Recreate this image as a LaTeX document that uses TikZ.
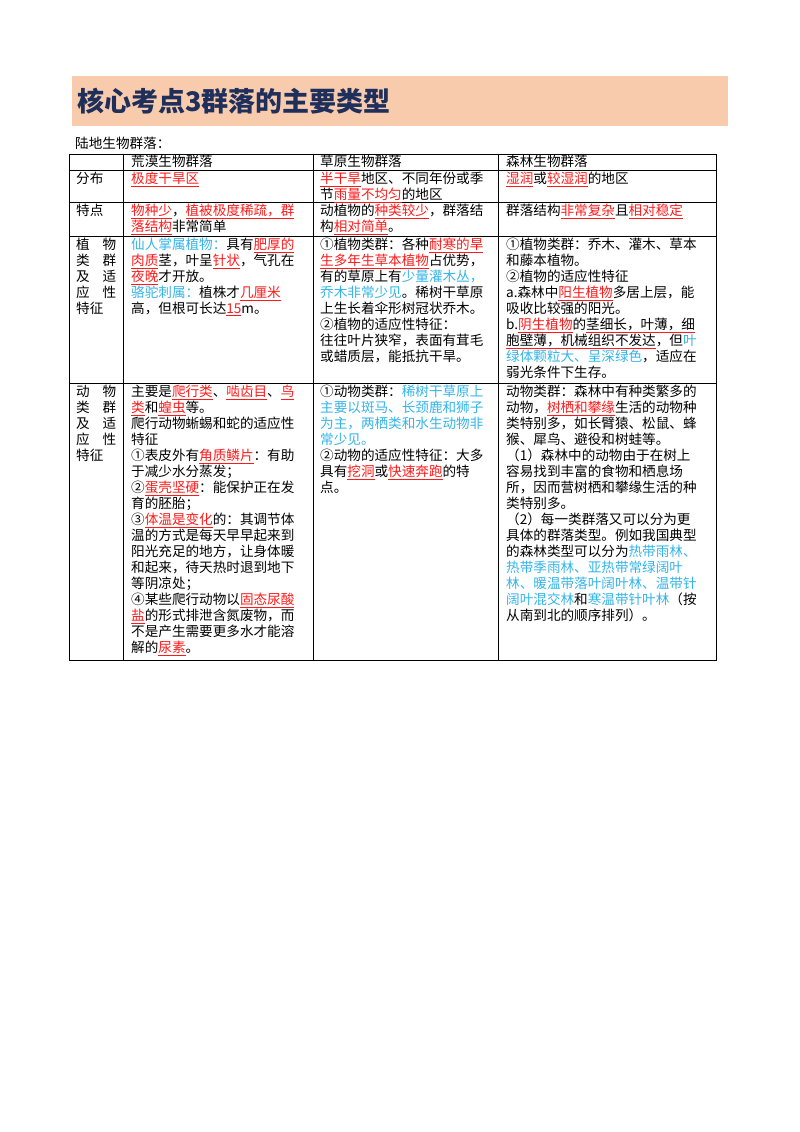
\documentclass[tikz,border=0pt]{standalone}
\usepackage{fontspec}
\setmainfont{Noto Sans CJK SC}
\XeTeXlinebreaklocale "zh"
\XeTeXlinebreakskip=0pt plus 1pt
\definecolor{band}{HTML}{F8CBAD}
\definecolor{navy}{HTML}{1F2F5C}
\definecolor{hired}{HTML}{FF1A1A}
\definecolor{skyb}{HTML}{33B4E8}
\newcommand{\hl}[1]{\textcolor{hired}{\underline{#1}}}
\newcommand{\ulr}[1]{\textcolor{hired}{\underline{\textcolor{black}{#1}}}}
\newcommand{\bl}[1]{\textcolor{skyb}{#1}}
\newcommand{\two}[2]{\makebox[40pt]{#1\hfill #2}}
\newcommand{\cellfont}{\fontsize{13.6}{16}\selectfont}

\begin{document}
\begin{tikzpicture}[x=1pt, y=-1pt,
    cell/.style={anchor=north west, inner sep=0pt, font=\cellfont, align=left},
    rule/.style={line width=0.6pt}]
    \useasboundingbox (0,0) rectangle (800,1132);

    % title band
    \fill[band] (72,76) rectangle (728,126);
    \node[anchor=west, inner sep=0pt, text=navy, font=\fontsize{27}{30}\selectfont\bfseries] (title) at (77,101) {核心考点3群落的主要类型};
    \node[anchor=west, inner sep=0pt, font=\cellfont] (sub) at (75,143) {陆地生物群落：};

    % table grid
    \draw[rule] (69,154) rectangle (716,660);
    \foreach \y in {170,202,236,383}
        \draw[rule] (69,\y) -- (716,\y);
    \foreach \x in {123,313,498}
        \draw[rule] (\x,154) -- (\x,660);

    % header row
    \node[cell] (h2) at (131,155) {荒漠生物群落};
    \node[cell] (h3) at (320,155) {草原生物群落};
    \node[cell] (h4) at (506,155) {森林生物群落};

    % distribution
    \node[cell] (d1) at (76,172) {分布};
    \node[cell] (d2) at (131,172) {\hl{极度干旱区}};
    \node[cell] (d3) at (320,172) {\hl{半干旱}地区、不同年份或季\\节\hl{雨量不均匀}的地区};
    \node[cell] (d4) at (506,172) {\hl{湿润}或\hl{较湿润}的地区};

    % features
    \node[cell] (f1) at (76,204) {特点};
    \node[cell] (f2) at (131,204) {\hl{物种少}，\hl{植被极度稀疏，群}\\\hl{落结构}非常简单};
    \node[cell] (f3) at (320,204) {动植物的\hl{种类较少}，群落结\\构\hl{相对简单}。};
    \node[cell] (f4) at (506,204) {群落结构\hl{非常复杂}且\hl{相对稳定}};

    % plants
    \node[cell] (p1) at (76,238) {\two{植}{物}\\\two{类}{群}\\\two{及}{适}\\\two{应}{性}\\特征};
    \node[cell] (p2) at (131,238) {\bl{仙人掌属植物：}具有\hl{肥厚的}\\\hl{肉质}茎，叶呈\hl{针状}，气孔在\\\hl{夜晚}才开放。\\\bl{骆驼刺属：}植株才\hl{几厘米}\\高，但根可长达\hl{15}m。};
    \node[cell] (p3) at (320,238) {①植物类群：各种\hl{耐寒的旱}\\\hl{生多年生草本植物}占优势，\\有的草原上有\bl{少量灌木丛，}\\\bl{乔木非常少见}。稀树干草原\\上生长着伞形树冠状乔木。\\②植物的适应性特征：\\往往叶片狭窄，表面有茸毛\\或蜡质层，能抵抗干旱。};
    \node[cell] (p4) at (506,238) {①植物类群：乔木、灌木、草本\\和藤本植物。\\②植物的适应性特征\\a.森林中\hl{阳生植物}多居上层，能\\吸收比较强的阳光。\\b.\hl{阴生植物}的\ulr{茎细长，叶薄，细}\\\ulr{胞壁薄，机械组织不发达}，但\bl{叶}\\\bl{绿体颗粒大、呈深绿色}，适应在\\弱光条件下生存。};

    % animals
    \node[cell] (a1) at (76,385) {\two{动}{物}\\\two{类}{群}\\\two{及}{适}\\\two{应}{性}\\特征};
    \node[cell] (a2) at (131,385) {主要是\hl{爬行类}、\hl{啮齿目}、\hl{鸟}\\\hl{类}和\hl{蝗虫}等。\\爬行动物蜥蜴和蛇的适应性\\特征\\①表皮外有\hl{角质鳞片}：有助\\于减少水分蒸发；\\②\hl{蛋壳坚硬}：能保护正在发\\育的胚胎；\\③\hl{体温是变化}的：其调节体\\温的方式是每天早早起来到\\阳光充足的地方，让身体暖\\和起来，待天热时退到地下\\等阴凉处；\\④某些爬行动物以\hl{固态尿酸}\\\hl{盐}的形式排泄含氮废物，而\\不是产生需要更多水才能溶\\解的\hl{尿素}。};
    \node[cell] (a3) at (320,385) {①动物类群：\bl{稀树干草原上}\\\bl{主要以斑马、长颈鹿和狮子}\\\bl{为主，两栖类和水生动物非}\\\bl{常少见。}\\②动物的适应性特征：大多\\具有\hl{挖洞}或\hl{快速奔跑}的特\\点。};
    \node[cell] (a4) at (506,385) {动物类群：森林中有种类繁多的\\动物，\hl{树栖和攀缘}生活的动物种\\类特别多，如长臂猿、松鼠、蜂\\猴、犀鸟、避役和树蛙等。\\（1）森林中的动物由于在树上\\容易找到丰富的食物和栖息场\\所，因而营树栖和攀缘生活的种\\类特别多。\\（2）每一类群落又可以分为更\\具体的群落类型。例如我国典型\\的森林类型可以分为\bl{热带雨林、}\\\bl{热带季雨林、亚热带常绿阔叶}\\\bl{林、暖温带落叶阔叶林、温带针}\\\bl{阔叶混交林}和\bl{寒温带针叶林}（按\\从南到北的顺序排列）。};
\end{tikzpicture}
\end{document}
